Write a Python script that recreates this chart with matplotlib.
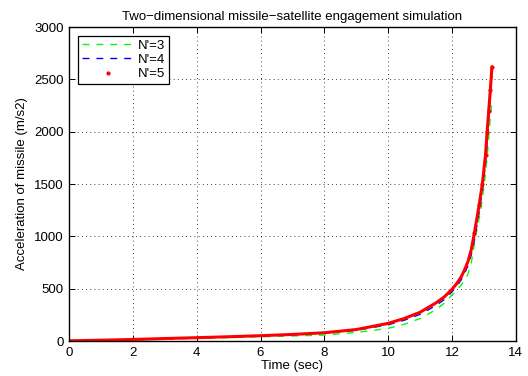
import matplotlib
matplotlib.use("Agg")
import matplotlib.pyplot as plt
from matplotlib.lines import Line2D

plt.rcParams["font.family"] = ["Liberation Sans", "DejaVu Sans"]

# Aceleracion del misil para cada constante de navegacion N'
t_n3 = [0, 1, 2, 3, 4, 5, 6, 7, 8, 9, 10, 10.5, 11, 11.5, 11.75, 12, 12.15,
        12.3, 12.4, 12.5, 12.6, 12.74, 12.9, 13.01, 13.1, 13.16, 13.24]
a_n3 = [2, 6, 10, 18, 25, 33, 41, 48, 57, 82, 121, 160, 215, 300, 360, 440,
        485, 540, 585, 640, 740, 1000, 1250, 1500, 1750, 2000, 2270]

t_n4 = [0, 1, 2, 3, 4, 5, 6, 7, 8, 9, 10, 10.5, 11, 11.5, 11.75, 12, 12.15,
        12.3, 12.4, 12.5, 12.6, 12.7, 12.85, 12.95, 13.05, 13.1, 13.15, 13.2,
        13.25]
a_n4 = [2, 7, 13, 22, 30, 39, 48, 60, 74, 102, 155, 198, 255, 340, 395, 470,
        525, 590, 650, 720, 820, 960, 1230, 1430, 1700, 1900, 2120, 2330, 2550]

t_n5 = [0, 1, 2, 3, 4, 5, 6, 7, 8, 9, 10, 10.5, 11, 11.5, 11.75, 12, 12.15,
        12.3, 12.4, 12.5, 12.6, 12.7, 12.85, 12.95, 13.05, 13.1, 13.15, 13.2,
        13.25]
a_n5 = [2, 8, 15, 24, 32, 41, 51, 63, 79, 110, 169, 215, 275, 365, 420, 494,
        550, 620, 685, 760, 870, 1030, 1300, 1500, 1780, 2000, 2200, 2400, 2620]

etiquetas = ["N'=3", "N'=4", "N'=5"]

fig = plt.figure(figsize=(5.28, 3.76), dpi=100)
ax = fig.add_axes([0.1307, 0.093, 0.977 - 0.1307, 0.928 - 0.093])

raya = (0, (5, 5))
ax.plot(t_n3, a_n3, color="#00ff00", linestyle=raya, lw=1.0)
ax.plot(t_n4, a_n4, color="#0000ff", linestyle=raya, lw=1.0)
# la serie N'=5 va como trazo grueso con puntos en el tramo final
ax.plot(t_n5, a_n5, color="red", lw=2.2, solid_capstyle="round")
ax.plot(t_n5[-8:], a_n5[-8:], color="red", linestyle="none", marker=".", ms=4)

ax.set_xlim(0, 14)
ax.set_ylim(0, 3000)
ax.set_xticks(range(0, 15, 2))
ax.set_yticks(range(0, 3001, 500))
ax.grid(True, color="black", linestyle=(0, (1, 4)), lw=0.6)
ax.tick_params(direction="in", top=True, right=True, labelsize=9.5,
               length=4, width=0.7, pad=4)
for spine in ax.spines.values():
    spine.set_linewidth(1.0)

fuente = 9.5
ax.set_title("Two\u2212dimensional missile\u2212satellite engagement simulation",
             fontsize=fuente, pad=5)
ax.set_xlabel("Time (sec)", fontsize=fuente, labelpad=1)
ax.set_ylabel("Acceleration of missile (m/s2)", fontsize=fuente, labelpad=4)

# Manijas de la leyenda: lineas discontinuas y un punto para N'=5
manijas = [
    Line2D([], [], color="#00ff00", linestyle=raya, lw=1.0),
    Line2D([], [], color="#0000ff", linestyle=raya, lw=1.0),
    Line2D([], [], color="red", linestyle="none", marker=".", ms=4),
]
leg = ax.legend(manijas, etiquetas, loc="upper left", fontsize=fuente,
                fancybox=False, edgecolor="black", framealpha=1,
                handlelength=4.0, borderaxespad=0.65, labelspacing=0.15,
                handletextpad=0.3, borderpad=0.3)
leg.get_frame().set_linewidth(0.9)

fig.savefig("out.png", dpi=100)
